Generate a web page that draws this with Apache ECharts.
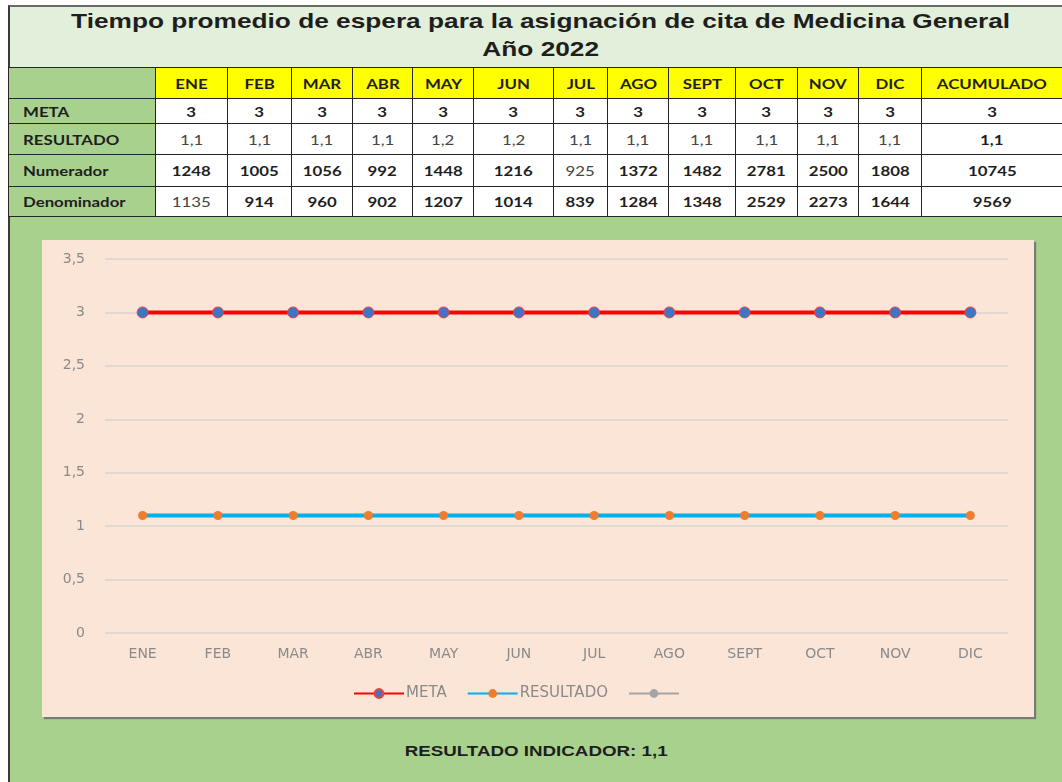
<!DOCTYPE html>
<html>
<head>
<meta charset="utf-8">
<script src="https://cdn.jsdelivr.net/npm/echarts@6/dist/echarts.min.js"></script>
<style>
  html, body { margin: 0; padding: 0; background: #ffffff; }
  #page { position: relative; width: 1062px; height: 782px; overflow: hidden; background: #ffffff; }
  #frame { position: absolute; left: 8px; top: 5px; width: 1054px; height: 777px; background: #a9d18e; border-left: 2px solid #3a3a3a; border-top: 2px solid #6a6a6a; box-sizing: border-box; }
  #titleBox { position: absolute; left: 10px; top: 7px; width: 1052px; height: 61px; background: #e2efda; font-family: "Liberation Sans", Arial, sans-serif; font-weight: bold; color: #1e1e1e; font-size: 21px; line-height: 26px; }
  #titleBox .ln { position: absolute; left: 0; width: 1062px; text-align: center; }
  #titleBox .ln span { display: inline-block; transform: scaleX(1.25); transform-origin: center; white-space: nowrap; }
  #titleBox .l1 { top: 1px; }
  #titleBox .l2 { top: 29px; }
  table#t { position: absolute; left: 8px; top: 67px; border-collapse: collapse; table-layout: fixed; font-family: Lato, "Open Sans", sans-serif; font-size: 14px; color: #1e1e1e; }
  #t td { border: 1.5px solid #262626; padding: 0; text-align: center; font-weight: bold; overflow: hidden; white-space: nowrap; }
  #t td span { display: inline-block; transform: scaleX(1.2); transform-origin: center; }
  #t td.hd { background: #ffff00; }
  #t td.lb { background: #a9d18e; text-align: left; padding-left: 14px; }
  #t td.lb span { transform-origin: left center; }
  #t td.v { background: #ffffff; }
  #t td.light { font-weight: normal; color: #444; }
  #chartBox { position: absolute; left: 42px; top: 240px; width: 992px; height: 477px; background: #fbe5d6; box-shadow: 2px 2px 1px #7a7a7a; }
  #chart { width: 992px; height: 477px; }
  #bottomText { position: absolute; left: 0; width: 1072px; top: 742px; text-align: center; font-family: "Liberation Sans", Arial, sans-serif; font-weight: bold; font-size: 15px; color: #1e1e1e; }
  #bottomText span { display: inline-block; transform: scaleX(1.25); }
</style>
</head>
<body>
<div id="page">
  <div id="frame"></div>
  <div id="titleBox">
    <div class="ln l1"><span>Tiempo promedio de espera para la asignación de cita de Medicina General</span></div>
    <div class="ln l2"><span>Año 2022</span></div>
  </div>
  <table id="t"></table>
  <div id="chartBox"><div id="chart"></div></div>
  <div id="bottomText"><span>RESULTADO INDICADOR: 1,1</span></div>
</div>
<script>
// ---- data ----
const months = ["ENE","FEB","MAR","ABR","MAY","JUN","JUL","AGO","SEPT","OCT","NOV","DIC"];
const accumLabel = "ACUMULADO";
const metaTable = ["3","3","3","3","3","3","3","3","3","3","3","3"];
const metaAccum = "3";
const resultadoTable = ["1,1","1,1","1,1","1,1","1,2","1,2","1,1","1,1","1,1","1,1","1,1","1,1"];
const resultadoAccum = "1,1";
const numerador = [1248,1005,1056,992,1448,1216,925,1372,1482,2781,2500,1808];
const numeradorAccum = 10745;
const denominador = [1135,914,960,902,1207,1014,839,1284,1348,2529,2273,1644];
const denominadorAccum = 9569;
// values as plotted in the chart
const metaSeries = [3,3,3,3,3,3,3,3,3,3,3,3];
const resultadoSeries = [1.1,1.1,1.1,1.1,1.1,1.1,1.1,1.1,1.1,1.1,1.1,1.1];
const extraSeries = [];
const yTicks = [0,0.5,1,1.5,2,2.5,3,3.5];

// ---- table (layout) ----
const colWidths = [147,72,64,61,60,61,80,54,61,67,62,61,63,141];
const rowHeights = [31,25,31,32,30];
(function buildTable(){
  const t = document.getElementById('t');
  const cg = document.createElement('colgroup');
  colWidths.forEach(w => { const c = document.createElement('col'); c.style.width = w + 'px'; cg.appendChild(c); });
  t.appendChild(cg);
  t.style.width = colWidths.reduce((a,b)=>a+b,0) + 'px';
  function cell(cls, text) {
    const td = document.createElement('td');
    td.className = cls;
    const s = document.createElement('span');
    s.textContent = text;
    td.appendChild(s);
    return td;
  }
  function row(h, label, vals, acc, cls, lightIdx, accCls) {
    const tr = document.createElement('tr');
    tr.style.height = h + 'px';
    tr.appendChild(cell('lb', label));
    vals.forEach((v,i) => {
      tr.appendChild(cell(cls + ((lightIdx && lightIdx.includes(i)) ? ' light' : ''), v));
    });
    tr.appendChild(cell(accCls || cls, acc));
    t.appendChild(tr);
  }
  row(rowHeights[0], '', months, accumLabel, 'hd');
  row(rowHeights[1], 'META', metaTable, metaAccum, 'v');
  row(rowHeights[2], 'RESULTADO', resultadoTable, resultadoAccum, 'v', [0,1,2,3,4,5,6,7,8,9,10,11], 'v');
  row(rowHeights[3], 'Numerador', numerador, numeradorAccum, 'v', [6]);
  row(rowHeights[4], 'Denominador', denominador, denominadorAccum, 'v', [0]);
})();

// ---- chart ----
const chart = echarts.init(document.getElementById('chart'));
const fmt = v => String(v).replace('.', ',');
const labelFont = '"DejaVu Sans", sans-serif';
chart.setOption({
  animation: false,
  backgroundColor: 'transparent',
  grid: { left: 63, right: 26, top: 19, bottom: 84 },
  xAxis: {
    type: 'category',
    data: months,
    boundaryGap: true,
    axisLine: { show: false },
    axisTick: { show: false },
    axisLabel: { color: '#8a8a8a', fontFamily: labelFont, fontSize: 14, margin: 14 }
  },
  yAxis: {
    type: 'value',
    min: yTicks[0],
    max: yTicks[yTicks.length - 1],
    interval: 0.5,
    axisLine: { show: false },
    axisTick: { show: false },
    axisLabel: { color: '#8a8a8a', fontFamily: labelFont, fontSize: 14, margin: 20, formatter: fmt },
    splitLine: { lineStyle: { color: '#e0d8d2', width: 2 } }
  },
  legend: {
    left: 306,
    top: 441,
    itemWidth: 50,
    itemHeight: 11,
    itemGap: 20,
    textStyle: { color: '#8a8a8a', fontFamily: labelFont, fontSize: 15, padding: [0,0,0,-3] },
    data: ['META', 'RESULTADO', ' ']
  },
  series: [
    {
      name: 'META', type: 'line', data: metaSeries,
      symbol: 'circle', symbolSize: 11,
      lineStyle: { color: '#ff0000', width: 4 },
      itemStyle: { color: '#4472c4', borderColor: '#ff3a3a', borderWidth: 1 }
    },
    {
      name: 'RESULTADO', type: 'line', data: resultadoSeries,
      symbol: 'circle', symbolSize: 9,
      lineStyle: { color: '#00b0f0', width: 4 },
      itemStyle: { color: '#ed7d31' }
    },
    {
      name: ' ', type: 'line', data: extraSeries,
      symbol: 'circle', symbolSize: 7,
      lineStyle: { color: '#a5a5a5', width: 2 },
      itemStyle: { color: '#a5a5a5' }
    }
  ]
});
</script>
</body>
</html>
